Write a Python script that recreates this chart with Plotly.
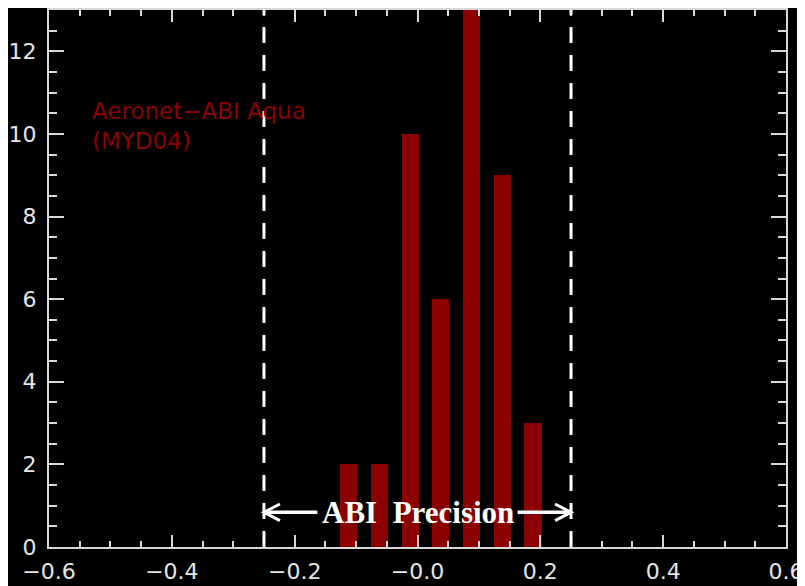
import plotly.graph_objects as go

# Data
bin_centers = [-0.112, -0.062, -0.012, 0.038, 0.088, 0.138, 0.188]
counts = [2, 2, 10, 6, 13, 9, 3]
precision = 0.25
x_tickvals = [-0.6, -0.4, -0.2, 0.0, 0.2, 0.4, 0.6]
x_ticktext = ["\u22120.6", "\u22120.4", "\u22120.2", "\u22120.0", "0.2", "0.4", "0.6"]
y_tickvals = [0, 2, 4, 6, 8, 10, 12]
legend_text = "Aeronet\u2212ABI Aqua<br>(MYD04)"
precision_label = "ABI&nbsp;&nbsp;Precision"

BAR_COLOR = "#8b0000"
AXIS_COLOR = "#d8d8d8"

# page has an 8px body margin; compensate so plot area lands at 49..786 x 10..547
OFF = 8
W, H = 805 - OFF, 586 - OFF
ml, mr, mt, mb = 49 - OFF, 19, 10 - OFF, 39
pw, ph = W - ml - mr, H - mt - mb

fig = go.Figure()
fig.add_trace(go.Bar(
    x=bin_centers, y=counts, width=0.028,
    marker=dict(color=BAR_COLOR, line=dict(width=0)),
    showlegend=False, hoverinfo="skip",
))

# dashed precision lines
for xv in (-precision, precision):
    fig.add_shape(type="line", x0=xv, x1=xv, y0=0, y1=13, xref="x", yref="y",
                  line=dict(color="white", width=3, dash="16px,12px"), layer="above")

# arrows
ay = 0.84
head_dx = 0.026
head_dy = 0.2
shaft_in = 0.163
for sgn in (-1, 1):
    tip = sgn * precision
    inner = sgn * shaft_in
    fig.add_shape(type="line", x0=inner, x1=tip, y0=ay, y1=ay, xref="x", yref="y",
                  line=dict(color="white", width=3.5), layer="above")
    fig.add_shape(type="path",
                  path=f"M {tip - sgn*head_dx},{ay + head_dy} L {tip},{ay} L {tip - sgn*head_dx},{ay - head_dy}",
                  xref="x", yref="y", line=dict(color="white", width=3), layer="above")

fig.add_annotation(x=0.0, y=ay, xref="x", yref="y", text=f"<b>{precision_label}</b>",
                   showarrow=False, font=dict(family="Liberation Serif", size=31, color="white"),
                   xanchor="center", yanchor="middle")

fig.add_annotation(x=(90 - 49) / pw, y=1 - (96 - 10) / ph, xref="paper", yref="paper", text=legend_text,
                   showarrow=False, font=dict(family="DejaVu Sans", size=23, color="#8b0000"),
                   xanchor="left", yanchor="top", align="left")

fig.update_layout(
    width=W, height=H,
    margin=dict(l=ml, r=mr, t=mt, b=mb, pad=0, autoexpand=False),
    paper_bgcolor="black", plot_bgcolor="black",
    bargap=0,
    xaxis=dict(range=[-0.6, 0.6], tickvals=x_tickvals, ticktext=x_ticktext, automargin=False,
               showgrid=False, zeroline=False, showline=True, linecolor=AXIS_COLOR, linewidth=2,
               mirror="allticks", ticks="inside", ticklen=12, tickwidth=1.5, tickcolor=AXIS_COLOR,
               minor=dict(dtick=0.05, tick0=0, ticks="inside", ticklen=6, tickwidth=1.5, tickcolor=AXIS_COLOR, showgrid=False),
               tickfont=dict(family="DejaVu Sans", size=22, color="#e6e6e6"),
               ticklabelstandoff=4),
    yaxis=dict(range=[0, 13], tickvals=y_tickvals, automargin=False,
               showgrid=False, zeroline=False, showline=True, linecolor=AXIS_COLOR, linewidth=2,
               mirror="allticks", ticks="inside", ticklen=15, tickwidth=1.5, tickcolor=AXIS_COLOR,
               minor=dict(dtick=0.5, tick0=0, ticks="inside", ticklen=8, tickwidth=1.5, tickcolor=AXIS_COLOR, showgrid=False),
               tickfont=dict(family="DejaVu Sans", size=22, color="#e6e6e6"),
               ticklabelstandoff=6),
)

fig.write_html("out.html")
